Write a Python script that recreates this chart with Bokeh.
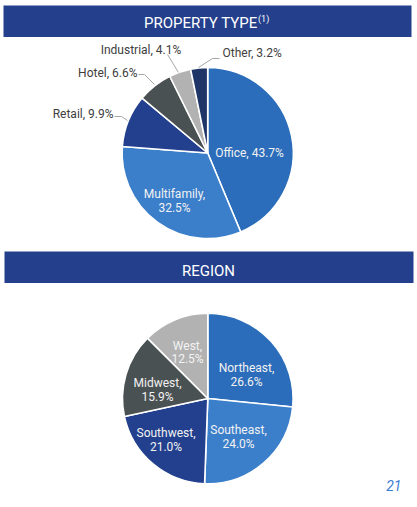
import math
from bokeh.plotting import figure
from bokeh.models import Range1d, ColumnDataSource
from bokeh.core.properties import value
from bokeh.embed import file_html
from bokeh.resources import INLINE

# ---- data ----
prop_categories = ["Office", "Multifamily", "Retail", "Hotel", "Industrial", "Other"]
prop_values = [43.7, 32.5, 9.9, 6.6, 4.1, 3.2]
prop_colors = ["#2B6DBA", "#3B7ECA", "#23408E", "#4A5152", "#B2B2B2", "#1F3467"]

region_categories = ["Northeast", "Southeast", "Southwest", "Midwest", "West"]
region_values = [26.6, 24.0, 21.0, 15.9, 12.5]
region_colors = ["#2B6DBA", "#3B7ECA", "#23408E", "#4A5152", "#B2B2B2"]

title1 = "PROPERTY TYPE"
title1_sup = "(1)"
title2 = "REGION"
page_number = "21"

# ---- layout (page pixel coordinates converted to data) ----
OX, OY = 0, 0
W, H = 414, 500
FONT = "Roboto"

def X(sx):
    return sx - OX

def Y(sy):
    return H - (sy - OY)

p = figure(width=W, height=H, output_backend="svg", toolbar_location=None,
           x_range=Range1d(0, W), y_range=Range1d(0, H),
           min_border=0, outline_line_color=None)
p.axis.visible = False
p.xgrid.visible = False
p.ygrid.visible = False
p.background_fill_color = "white"
p.border_fill_color = "white"

HEADER = "#243F8C"
# header bands
p.quad(left=[X(3), X(4)], right=[X(411), X(413)], top=[Y(5), Y(251)],
       bottom=[Y(36.5), Y(282.5)], fill_color=HEADER, line_color=None)
p.text(x=[X(257)], y=[Y(22.5)], text=[title1], text_align="right", text_baseline="middle",
       text_color="white", text_font=value(FONT), text_font_size="15px")
p.text(x=[X(257.5)], y=[Y(18)], text=[title1_sup], text_align="left", text_baseline="middle",
       text_color="white", text_font=value(FONT), text_font_size="9px")
p.text(x=[X(208)], y=[Y(270)], text=[title2], text_align="center", text_baseline="middle",
       text_color="white", text_font=value(FONT), text_font_size="15px")


def pie(cx, cy, r, vals, cols):
    total = sum(vals)
    starts, ends = [], []
    cum = 0.0
    for v in vals:
        starts.append(math.pi / 2 - 2 * math.pi * cum / total)
        cum += v
        ends.append(math.pi / 2 - 2 * math.pi * cum / total)
    src = ColumnDataSource(dict(x=[X(cx)] * len(vals), y=[Y(cy)] * len(vals),
                                start=starts, end=ends, color=cols))
    p.wedge(x="x", y="y", radius=r, start_angle="start", end_angle="end",
            direction="clock", fill_color="color", line_color="white",
            line_width=1.6, source=src)


pie(207.2, 152.5, 85.6, prop_values, prop_colors)
pie(207.3, 398.0, 85.3, region_values, region_colors)


def fmt(name, v, sep=", "):
    return f"{name}{sep}{v:.1f}%"

# property labels
DARK = "#404040"
LIGHT = "#F2F2F2"
FS = "12px"
lab_out = dict(text_font=value(FONT), text_font_size=FS, text_baseline="middle",
               text_color=DARK)
lab_in = dict(text_font=value(FONT), text_font_size=FS, text_baseline="middle",
              text_color=LIGHT, text_align="center")

p.text(x=[X(249)], y=[Y(152.5)], text=[fmt(prop_categories[0], prop_values[0])], **lab_in)
p.text(x=[X(174), X(174)], y=[Y(193), Y(207)],
       text=[prop_categories[1] + ",", f"{prop_values[1]:.1f}%"], **lab_in)
p.text(x=[X(113)], y=[Y(113.5)], text=[fmt(prop_categories[2], prop_values[2])],
       text_align="right", **lab_out)
p.text(x=[X(137)], y=[Y(72.5)], text=[fmt(prop_categories[3], prop_values[3])],
       text_align="right", **lab_out)
p.text(x=[X(140.5)], y=[Y(49)], text=[fmt(prop_categories[4], prop_values[4])],
       text_align="center", **lab_out)
p.text(x=[X(222)], y=[Y(52)], text=[fmt(prop_categories[5], prop_values[5])],
       text_align="left", **lab_out)

# leader lines
p.multi_line(xs=[[X(114), X(121), X(127)], [X(138), X(144), X(154)],
                 [X(167), X(178)], [X(219), X(212), X(198)]],
             ys=[[Y(116), Y(116), Y(120)], [Y(74), Y(74), Y(84)],
                 [Y(54), Y(72)], [Y(58), Y(58), Y(67)]],
             line_color="#A6A6A6", line_width=1)

# region labels
reg_pos = [(246, 367, 381), (238, 429, 443), (165.5, 432, 446), (157, 382, 396), (187, 345, 358.5)]
for name, v, (lx, y1, y2) in zip(region_categories, region_values, reg_pos):
    p.text(x=[X(lx), X(lx)], y=[Y(y1), Y(y2)], text=[name + ",", f"{v:.1f}%"], **lab_in)

p.text(x=[X(401)], y=[Y(484.5)], text=[page_number], text_align="right", text_baseline="middle",
       text_color="#3A7BD5", text_font=value(FONT), text_font_size="14px",
       text_font_style="italic")

open("out.html", "w").write(file_html(p, INLINE))
